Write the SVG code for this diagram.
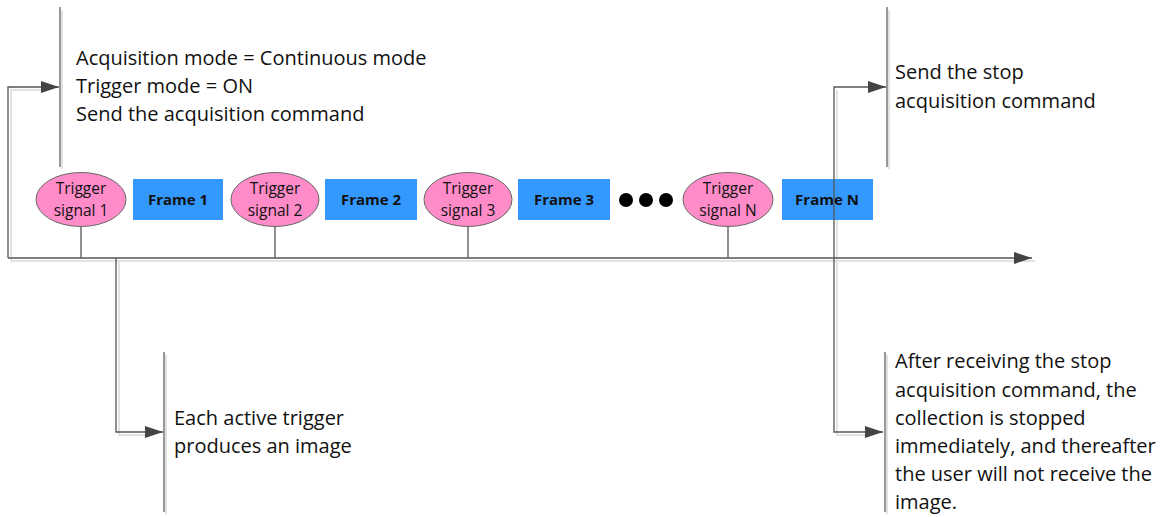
<svg xmlns="http://www.w3.org/2000/svg" width="1167" height="517" viewBox="0 0 1167 517">
<style>
.ln{fill:none;stroke:#555;stroke-width:1.3}
.sh{fill:none;stroke:#e2e2e2;stroke-width:2}
.br{fill:none;stroke:#555;stroke-width:1.2}
.trig{fill:#ff8cc8;stroke:#666;stroke-width:1}
.frm{fill:#3399ff}
.t{font-family:"Open Sans","Liberation Sans",sans-serif;font-size:20px;fill:#111}
.ts{font-family:"Open Sans","Liberation Sans",sans-serif;font-size:15.5px;fill:#111;text-anchor:middle}
.tb{font-family:"Open Sans","Liberation Sans",sans-serif;font-size:15px;font-weight:bold;fill:#111;text-anchor:middle}
</style>
<defs>
<marker id="ah" markerWidth="18" markerHeight="12" refX="18" refY="6" orient="auto" markerUnits="userSpaceOnUse">
<path d="M0,0 L18,6 L0,12 Z" fill="#444"/>
</marker>
</defs>
<rect width="1167" height="517" fill="#fff"/>
<g id="connectors">
<path class="sh" d="M11,261 L1035,261"/>
<path class="sh" d="M11,261 L11,90 L42,90"/>
<path class="sh" d="M119,261 L119,435 L147,435"/>
<path class="sh" d="M837,90 L837,435 L867,435"/>
<path class="ln" d="M8,258 L1032,258" marker-end="url(#ah)"/>
<path class="ln" d="M8,258 L8,87 L59,87" marker-end="url(#ah)"/>
<path class="ln" d="M116,258 L116,432 L163,432" marker-end="url(#ah)"/>
<path class="ln" d="M834,258 L834,87 L886,87" marker-end="url(#ah)"/>
<path class="ln" d="M834,258 L834,432 L883,432" marker-end="url(#ah)"/>
<path class="ln" d="M81,227 V258 M275,227 V258 M468,227 V258 M728,227 V258"/>
</g>
<g id="note-start">
<path class="sh" d="M62,10 V169"/>
<path class="br" d="M60,7 V167"/>
<text class="t" x="76" y="65">Acquisition mode = Continuous mode</text>
<text class="t" x="76" y="93">Trigger mode = ON</text>
<text class="t" x="76" y="121">Send the acquisition command</text>
</g>
<g id="note-stop">
<path class="sh" d="M889,10 V169"/>
<path class="br" d="M887,7 V167"/>
<text class="t" x="895" y="79">Send the stop</text>
<text class="t" x="895" y="108">acquisition command</text>
</g>
<g id="note-image">
<path class="sh" d="M166,355 V514"/>
<path class="br" d="M164,352 V512"/>
<text class="t" x="174" y="425">Each active trigger</text>
<text class="t" x="174" y="453">produces an image</text>
</g>
<g id="note-after">
<path class="sh" d="M887,355 V514"/>
<path class="br" d="M885,352 V512"/>
<text class="t" x="895" y="368">After receiving the stop</text>
<text class="t" x="895" y="397">acquisition command, the</text>
<text class="t" x="895" y="425">collection is stopped</text>
<text class="t" x="895" y="453">immediately, and thereafter</text>
<text class="t" x="895" y="481">the user will not receive the</text>
<text class="t" x="895" y="509">image.</text>
</g>
<g id="trigger1"><ellipse class="trig" cx="81" cy="199.5" rx="45" ry="27"/><text class="ts" x="81" y="194">Trigger</text><text class="ts" x="81" y="216">signal 1</text></g>
<g id="frame1"><rect class="frm" x="133" y="179" width="90" height="41"/><text class="tb" x="178" y="205">Frame 1</text></g>
<g id="trigger2"><ellipse class="trig" cx="275" cy="199.5" rx="44" ry="27"/><text class="ts" x="275" y="194">Trigger</text><text class="ts" x="275" y="216">signal 2</text></g>
<g id="frame2"><rect class="frm" x="325" y="179" width="92" height="41"/><text class="tb" x="371" y="205">Frame 2</text></g>
<g id="trigger3"><ellipse class="trig" cx="468" cy="199.5" rx="44" ry="27"/><text class="ts" x="468" y="194">Trigger</text><text class="ts" x="468" y="216">signal 3</text></g>
<g id="frame3"><rect class="frm" x="518" y="179" width="92" height="41"/><text class="tb" x="564" y="205">Frame 3</text></g>
<g id="dots"><circle cx="626" cy="200" r="7" fill="#000"/><circle cx="646" cy="200" r="7" fill="#000"/><circle cx="666" cy="200" r="7" fill="#000"/></g>
<g id="triggerN"><ellipse class="trig" cx="728" cy="199.5" rx="45" ry="27"/><text class="ts" x="728" y="194">Trigger</text><text class="ts" x="728" y="216">signal N</text></g>
<g id="frameN"><rect class="frm" x="782" y="179" width="91" height="41"/><path class="ln" d="M834,179 V220"/><text class="tb" x="827" y="205">Frame N</text></g>
</svg>
